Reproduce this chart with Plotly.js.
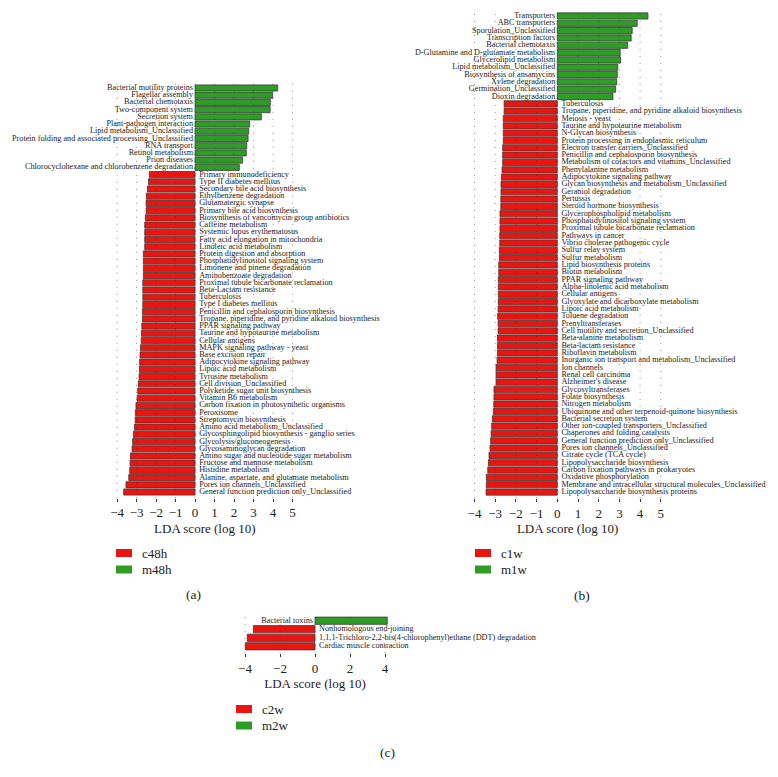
<!DOCTYPE html>
<html>
<head>
<meta charset="utf-8">
<script src="https://cdn.plot.ly/plotly-3.0.1.min.js"></script>
<style>html,body{margin:0;padding:0;background:#fff;}#chart{width:778px;height:777px;}</style>
</head>
<body>
<div id="chart"></div>
<script>
// ---------- Panel (a): c48h vs m48h ----------
const aGreenNames = ["Bacterial motility proteins","Flagellar assembly","Bacterial chemotaxis","Two-component system","Secretion system","Plant-pathogen interaction","Lipid metabolism_Unclassified","Protein folding and associated processing_Unclassified","RNA transport","Retinol metabolism","Prion diseases","Chlorocyclohexane and chlorobenzene degradation"];
const aGreenVals = [4.24,3.98,3.86,3.85,3.40,2.80,2.75,2.72,2.65,2.63,2.44,2.27];
const aRedNames = ["Primary immunodeficiency","Type II diabetes mellitus","Secondary bile acid biosynthesis","Ethylbenzene degradation","Glutamatergic synapse","Primary bile acid biosynthesis","Biosynthesis of vancomycin group antibiotics","Caffeine metabolism","Systemic lupus erythematosus","Fatty acid elongation in mitochondria","Linoleic acid metabolism","Protein digestion and absorption","Phosphatidylinositol signaling system","Limonene and pinene degradation","Aminobenzoate degradation","Proximal tubule bicarbonate reclamation","Beta-Lactam resistance","Tuberculosis","Type I diabetes mellitus","Penicillin and cephalosporin biosynthesis","Tropane, piperidine, and pyridine alkaloid biosynthesis","PPAR signaling pathway","Taurine and hypotaurine metabolism","Cellular antigens","MAPK signaling pathway - yeast","Base excision repair","Adipocytokine signaling pathway","Lipoic acid metabolism","Tyrosine metabolism","Cell division_Unclassified","Polyketide sugar unit biosynthesis","Vitamin B6 metabolism","Carbon fixation in photosynthetic organisms","Peroxisome","Streptomycin biosynthesis","Amino acid metabolism_Unclassified","Glycosphingolipid biosynthesis - ganglio series","Glycolysis/gluconeogenesis","Glycosaminoglycan degradation","Amino sugar and nucleotide sugar metabolism","Fructose and mannose metabolism","Histidine metabolism","Alanine, aspartate, and glutamate metabolism","Pores ion channels_Unclassified","General function prediction only_Unclassified"];
const aRedVals = [-2.34,-2.39,-2.44,-2.50,-2.51,-2.51,-2.55,-2.58,-2.58,-2.58,-2.58,-2.65,-2.65,-2.65,-2.65,-2.68,-2.68,-2.68,-2.68,-2.70,-2.70,-2.73,-2.75,-2.76,-2.80,-2.82,-2.84,-2.85,-2.87,-2.91,-2.94,-2.97,-3.03,-3.06,-3.07,-3.11,-3.16,-3.20,-3.23,-3.32,-3.33,-3.35,-3.40,-3.54,-3.66];
const aGroups = ["c48h","m48h"];
const aTicks = [-4,-3,-2,-1,0,1,2,3,4,5];

// ---------- Panel (b): c1w vs m1w ----------
const bGreenNames = ["Transporters","ABC transporters","Sporulation_Unclassified","Transcription factors","Bacterial chemotaxis","D-Glutamine and D-glutamate metabolism","Glycerolipid metabolism","Lipid metabolism_Unclassified","Biosynthesis of ansamycins","Xylene degradation","Germination_Unclassified","Dioxin degradation"];
const bGreenVals = [4.38,3.86,3.62,3.57,3.40,3.04,3.06,2.92,2.90,2.87,2.82,2.69];
const bRedNames = ["Tuberculosis","Tropane, piperidine, and pyridine alkaloid biosynthesis","Meiosis - yeast","Taurine and hypotaurine metabolism","N-Glycan biosynthesis","Protein processing in endoplasmic reticulum","Electron transfer carriers_Unclassified","Penicillin and cephalosporin biosynthesis","Metabolism of cofactors and vitamins_Unclassified","Phenylalanine metabolism","Adipocytokine signaling pathway","Glycan biosynthesis and metabolism_Unclassified","Geraniol degradation","Pertussis","Steroid hormone biosynthesis","Glycerophospholipid metabolism","Phosphatidylinositol signaling system","Proximal tubule bicarbonate reclamation","Pathways in cancer","Vibrio cholerae pathogenic cycle","Sulfur relay system","Sulfur metabolism","Lipid biosynthesis proteins","Biotin metabolism","PPAR signaling pathway","Alpha-linolenic acid metabolism","Cellular antigens","Glyoxylate and dicarboxylate metabolism","Lipoic acid metabolism","Toluene degradation","Prenyltransferases","Cell motility and secretion_Unclassified","Beta-alanine metabolism","Beta-lactam resistance","Riboflavin metabolism","Inorganic ion transport and metabolism_Unclassified","Ion channels","Renal cell carcinoma","Alzheimer's disease","Glycosyltransferases","Folate biosynthesis","Nitrogen metabolism","Ubiquinone and other terpenoid-quinone biosynthesis","Bacterial secretion system","Other ion-coupled transporters_Unclassified","Chaperones and folding catalysts","General function prediction only_Unclassified","Pores ion channels_Unclassified","Citrate cycle (TCA cycle)","Lipopolysaccharide biosynthesis","Carbon fixation pathways in prokaryotes","Oxidative phosphorylation","Membrane and intracellular structural molecules_Unclassified","Lipopolysaccharide biosynthesis proteins"];
const bRedVals = [-2.57,-2.57,-2.61,-2.61,-2.61,-2.61,-2.64,-2.64,-2.64,-2.67,-2.70,-2.72,-2.72,-2.73,-2.73,-2.77,-2.77,-2.77,-2.78,-2.78,-2.80,-2.80,-2.83,-2.83,-2.85,-2.85,-2.85,-2.85,-2.86,-2.88,-2.86,-2.86,-2.89,-2.89,-2.89,-2.91,-2.96,-2.96,-2.96,-3.06,-3.06,-3.07,-3.09,-3.14,-3.17,-3.20,-3.22,-3.25,-3.30,-3.33,-3.36,-3.43,-3.43,-3.44];
const bGroups = ["c1w","m1w"];
const bTicks = [-4,-3,-2,-1,0,1,2,3,4,5];

// ---------- Panel (c): c2w vs m2w ----------
const cGreenNames = ["Bacterial toxins"];
const cGreenVals = [4.13];
const cRedNames = ["Nonhomologous end-joining","1,1,1-Trichloro-2,2-bis(4-chlorophenyl)ethane (DDT) degradation","Cardiac muscle contraction"];
const cRedVals = [-3.52,-3.87,-3.98];
const cGroups = ["c2w","m2w"];
const cTicks = [-4,-2,0,2,4];

const RED = "#ea1510", GREEN = "#2e9d26", EDGE = "#3a3a3a";
const SERIF = "Liberation Serif, DejaVu Serif, serif";
const W = 778, H = 777;
const px = v => v / W, py = v => 1 - v / H;
const NB = "\u00a0";

function panel(gN, gV, rN, rV, ax, ay, fs) {
  return [
    {type:"bar", orientation:"h", x:gV, y:gN, xaxis:ax, yaxis:ay, width:0.85,
     marker:{color:GREEN, line:{color:EDGE, width:0.8}}, hoverinfo:"x+y", showlegend:false},
    {type:"bar", orientation:"h", x:rV, y:rN, xaxis:ax, yaxis:ay, width:0.85,
     marker:{color:RED, line:{color:EDGE, width:0.8}}, hoverinfo:"x+y", showlegend:false},
    {type:"scatter", mode:"text", x:gN.map(() => 0), y:gN, text:gN.map(s => s + NB),
     xaxis:ax, yaxis:ay, textposition:"middle left", textfont:{family:SERIF, size:fs, color:"#222"},
     cliponaxis:false, hoverinfo:"skip", showlegend:false},
    {type:"scatter", mode:"text", x:rN.map(() => 0), y:rN, text:rN.map(s => NB + NB + s),
     xaxis:ax, yaxis:ay, textposition:"middle right", textfont:{family:SERIF, size:fs, color:"#222"},
     cliponaxis:false, hoverinfo:"skip", showlegend:false}
  ];
}

const data = [].concat(
  panel(aGreenNames, aGreenVals, aRedNames, aRedVals, "x", "y", 8.2),
  panel(bGreenNames, bGreenVals, bRedNames, bRedVals, "x2", "y2", 8.2),
  panel(cGreenNames, cGreenVals, cRedNames, cRedVals, "x3", "y3", 8.2)
);

function xax(domain, range, ticks, anchor) {
  return {domain:domain, range:range, anchor:anchor, tickmode:"array", tickvals:ticks,
    ticks:"outside", ticklen:3, tickcolor:"#333", tickwidth:1,
    showgrid:false, zeroline:false, showline:false,
    tickfont:{family:SERIF, size:13, color:"#222"},
    title:{text:"LDA score (log 10)", font:{family:SERIF, size:13, color:"#222"}, standoff:4},
    fixedrange:true};
}
function yax(domain, cats, anchor) {
  return {domain:domain, type:"category", categoryorder:"array", categoryarray:cats,
    range:[cats.length - 0.2, -0.8], anchor:anchor, showticklabels:false, ticks:"",
    showgrid:false, zeroline:false, showline:false, fixedrange:true};
}

const aCats = aGreenNames.concat(aRedNames);
const bCats = bGreenNames.concat(bRedNames);
const cCats = cGreenNames.concat(cRedNames);

const shapes = [];
function grid(ticks, xr, yr) {
  ticks.forEach(t => shapes.push({type:"line", xref:xr, yref:yr + " domain", x0:t, x1:t, y0:0, y1:1,
    layer:"above", line:{color:"rgba(50,50,50,0.55)", width:1, dash:"1px,6px"}}));
}
grid(aTicks, "x", "y");
grid(bTicks, "x2", "y2");
grid(cTicks, "x3", "y3");

const annotations = [];
function legendBlock(groups, x, yTop) {
  [RED, GREEN].forEach((col, i) => {
    const yc = yTop + i * 16.5;
    shapes.push({type:"rect", xref:"paper", yref:"paper", x0:px(x), x1:px(x + 16),
      y0:py(yc + 4), y1:py(yc - 4), fillcolor:col, line:{width:0}});
    annotations.push({xref:"paper", yref:"paper", x:px(x + 24), y:py(yc), xanchor:"left", yanchor:"middle",
      text:groups[i], showarrow:false, font:{family:SERIF, size:13, color:"#222"}});
  });
}
legendBlock(aGroups, 116, 553);
legendBlock(bGroups, 475, 553);
legendBlock(cGroups, 236, 709);

[["(a)",193,594],["(b)",582,595],["(c)",387,752]].forEach(p => annotations.push({
  xref:"paper", yref:"paper", x:px(p[1]), y:py(p[2]), xanchor:"center", yanchor:"middle",
  text:p[0], showarrow:false, font:{family:SERIF, size:13.5, color:"#222"}}));

const layout = {
  width:W, height:H, margin:{l:0, r:0, t:0, b:0},
  paper_bgcolor:"#fff", plot_bgcolor:"rgba(0,0,0,0)",
  showlegend:false, bargap:0.15,
  xaxis: xax([px(111.2), px(298.4)], [-4.3, 5.3], aTicks, "y"),
  yaxis: yax([py(497.8), py(82.2)], aCats, "x"),
  xaxis2: xax([px(468.3), px(667)], [-4.3, 5.3], bTicks, "y2"),
  yaxis2: yax([py(497.9), py(10.1)], bCats, "x2"),
  xaxis3: xax([px(236.25), px(393.75)], [-4.5, 4.5], cTicks, "y3"),
  yaxis3: yax([py(653.1), py(613.9)], cCats, "x3"),
  shapes: shapes, annotations: annotations
};

Plotly.newPlot("chart", data, layout, {displayModeBar:false, staticPlot:true});
</script>
</body>
</html>
